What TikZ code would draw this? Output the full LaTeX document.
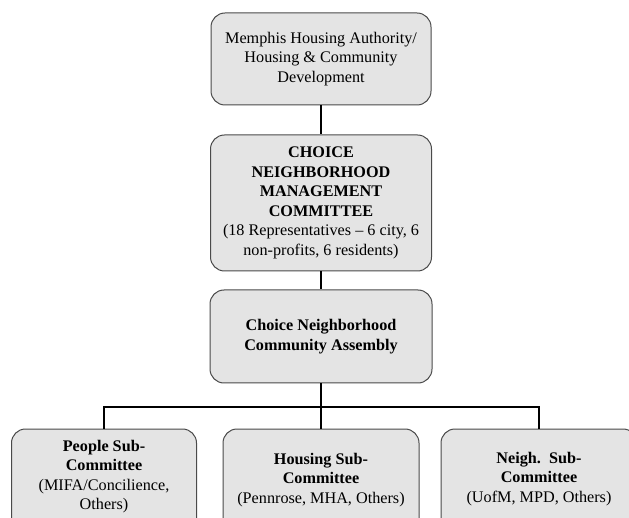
\documentclass[tikz,border=0pt]{standalone}
\usepackage{fontspec}
\setmainfont{Liberation Serif}
\definecolor{boxfill}{HTML}{E4E4E4}
\definecolor{boxline}{HTML}{4A4A4A}
\begin{document}
\begin{tikzpicture}[x=1pt,y=-1pt,
  box/.style={draw=boxline,line width=1pt,fill=boxfill,rounded corners=14pt,inner sep=0pt},
  txt/.style={align=center,font=\fontsize{16.2}{19.5}\selectfont,inner sep=0pt},
  conn/.style={draw=black,line width=1.8pt}]
\useasboundingbox (0,0) rectangle (629,518);
\clip (0,0) rectangle (629,518);
\node[box,minimum width=220pt,minimum height=92pt,txt] (mha) at (321,59)
  {Memphis Housing Authority/\\Housing \& Community\\Development};
\node[box,minimum width=221pt,minimum height=136pt,txt] (cnmc) at (321,203)
  {\textbf{CHOICE}\\\textbf{NEIGHBORHOOD}\\\textbf{MANAGEMENT}\\\textbf{COMMITTEE}\\(18 Representatives -- 6 city, 6\\non-profits, 6 residents)};
\node[box,minimum width=222pt,minimum height=93pt,txt] (cnca) at (321,336.5)
  {\textbf{Choice Neighborhood}\\\textbf{Community Assembly}};
\node[box,minimum width=185pt,minimum height=110pt] (people) at (104,484) {};
\node[box,minimum width=196pt,minimum height=110pt] (housing) at (321,484) {};
\node[box,minimum width=196pt,minimum height=110pt] (neigh) at (539,484) {};
\node[txt] (peopletxt) at (104,476.5)
  {\textbf{People Sub-}\\\textbf{Committee}\\(MIFA/Concilience,\\Others)};
\node[txt] (housingtxt) at (321,480)
  {\textbf{Housing Sub-}\\\textbf{Committee}\\(Pennrose, MHA, Others)};
\node[txt] (neightxt) at (539,479)
  {\textbf{Neigh.\ \ Sub-}\\\textbf{Committee}\\(UofM, MPD, Others)};
\coordinate (bus) at (321,407);
\draw[conn] (mha.south) -- (cnmc.north);
\draw[conn] (cnmc.south) -- (cnca.north);
\draw[conn] (cnca.south) -- (housing.north);
\draw[conn] (people.north) |- (bus) -| (neigh.north);
\end{tikzpicture}
\end{document}
